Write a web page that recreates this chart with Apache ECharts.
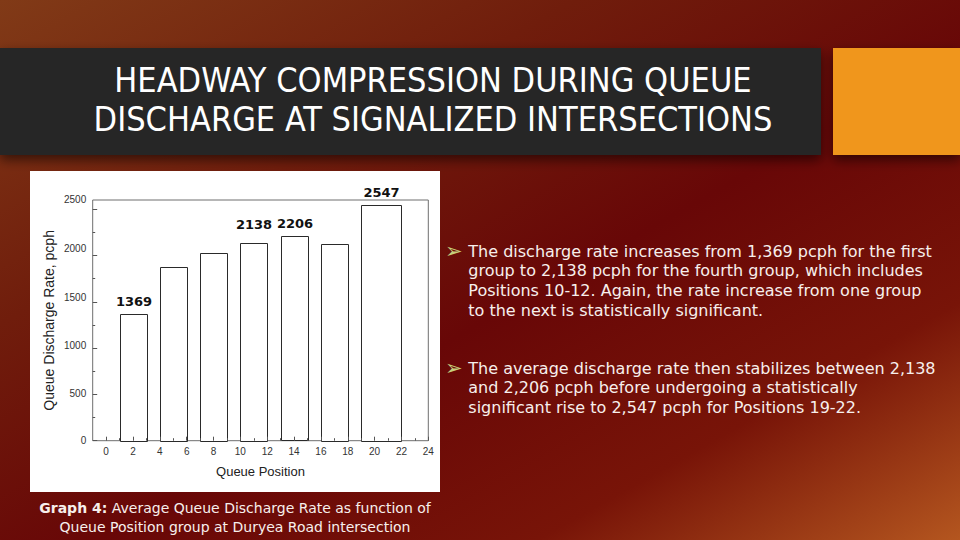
<!DOCTYPE html>
<html>
<head>
<meta charset="utf-8">
<script src="https://cdn.jsdelivr.net/npm/echarts@6/dist/echarts.min.js"></script>
<style>
html,body{margin:0;padding:0;background:#6b0d08;}
#c{width:960px;height:540px;}
</style>
</head>
<body>
<div id="c"></div>
<script>
// ---------- data ----------
const titleLines = ['HEADWAY COMPRESSION DURING QUEUE', 'DISCHARGE AT SIGNALIZED INTERSECTIONS'];
const groupStart = [1, 4, 7, 10, 13, 16, 19];
const groupEnd = [3, 6, 9, 12, 15, 18, 22];
const dischargeRate = [1369, 1878, 2029, 2138, 2206, 2130, 2547];
const annotatedGroups = [0, 3, 4, 6];
const xTickValues = [0, 2, 4, 6, 8, 10, 12, 14, 16, 18, 20, 22, 24];
const xMinorTickValues = [1, 3, 5, 7, 9, 11, 13, 15, 17, 19, 21, 23];
const yTickValues = [0, 500, 1000, 1500, 2000, 2500];
const yMinorTickValues = [250, 750, 1250, 1750, 2250];
const xAxisName = 'Queue Position';
const yAxisName = 'Queue Discharge Rate, pcph';
const bullet1Lines = [
  'The discharge rate increases from 1,369 pcph for the first',
  'group to 2,138 pcph for the fourth group, which includes',
  'Positions 10-12. Again, the rate increase from one group',
  'to the next is statistically significant.'
];
const bullet2Lines = [
  'The average discharge rate then stabilizes between 2,138',
  'and 2,206 pcph before undergoing a statistically',
  'significant rise to 2,547 pcph for Positions 19-22.'
];
const captionBold = 'Graph 4:';
const captionLine1 = ' Average Queue Discharge Rate as function of';
const captionLine2 = 'Queue Position group at Duryea Road intersection';

// ---------- chart ----------
const chart = echarts.init(document.getElementById('c'), null, {renderer: 'svg', width: 960, height: 540});
const AX_FONT = '"Liberation Sans", Arial, sans-serif';
const SLIDE_FONT = '"DejaVu Sans", sans-serif';

const barData = groupStart.map((s, i) => [s, groupEnd[i], dischargeRate[i]]);

// vertical shift of the scanned axis labels (px up)
const yLabelRich = {};
yTickValues.forEach((v, i) => {
  const shift = [0, 1.1, 3.1, 4.2, 6.6, 9.3][i];
  yLabelRich['l' + i] = {fontSize: 10, color: '#333', fontFamily: AX_FONT, padding: [0, 0, shift * 2, 0]};
});

const tickStyle = {color: '#555', width: 1};

const option = {
  animation: false,
  graphic: {
    elements: [
      {type: 'rect', z: -20, shape: {x: 0, y: 0, width: 960, height: 540},
        style: {fill: {type: 'linear', x: 0, y: 0, x2: 1, y2: 1, colorStops: [
          {offset: 0, color: '#813a17'}, {offset: 0.3, color: '#701d0c'},
          {offset: 0.55, color: '#680707'}, {offset: 0.78, color: '#781408'},
          {offset: 1, color: '#b4561f'}]}}},
      {type: 'rect', z: -19, shape: {x: 0, y: 48, width: 821, height: 107},
        style: {fill: '#272727', shadowBlur: 12, shadowOffsetY: 5, shadowColor: 'rgba(0,0,0,0.55)'}},
      {type: 'rect', z: -19, shape: {x: 833, y: 48, width: 127, height: 107},
        style: {fill: '#f0961d', shadowBlur: 12, shadowOffsetY: 5, shadowColor: 'rgba(0,0,0,0.55)'}},
      {type: 'text', z: -18, x: 433, y: 99.6,
        style: {text: titleLines.join('\n'), fill: '#ffffff', align: 'center', verticalAlign: 'middle',
          font: '34px "DejaVu Sans Condensed", "DejaVu Sans", sans-serif', lineHeight: 39}},
      {type: 'rect', z: -15, shape: {x: 30, y: 171, width: 410, height: 321}, style: {fill: '#ffffff'}},
      {type: 'text', z: -14, x: 445, y: 241.3,
        style: {text: '➢', fill: '#c6cf7c', font: '21px ' + SLIDE_FONT, lineHeight: 19.8, verticalAlign: 'top'}},
      {type: 'text', z: -14, x: 468.3, y: 241.3,
        style: {text: bullet1Lines.join('\n'), fill: '#f7efec', font: '16px ' + SLIDE_FONT, lineHeight: 19.8, verticalAlign: 'top'}},
      {type: 'text', z: -14, x: 445, y: 358.3,
        style: {text: '➢', fill: '#c6cf7c', font: '21px ' + SLIDE_FONT, lineHeight: 19.8, verticalAlign: 'top'}},
      {type: 'text', z: -14, x: 468.3, y: 358.3,
        style: {text: bullet2Lines.join('\n'), fill: '#f7efec', font: '16px ' + SLIDE_FONT, lineHeight: 19.8, verticalAlign: 'top'}},
      {type: 'text', z: -14, x: 235, y: 499.1,
        style: {text: '{b|' + captionBold + '}{r|' + captionLine1 + '}', align: 'center', verticalAlign: 'top', lineHeight: 18.4,
          rich: {b: {font: 'bold 14px ' + SLIDE_FONT, fill: '#f7efec', color: '#f7efec', lineHeight: 18.4},
                 r: {font: '14px ' + SLIDE_FONT, fill: '#f7efec', color: '#f7efec', lineHeight: 18.4}}}},
      {type: 'text', z: -14, x: 235, y: 517.5,
        style: {text: captionLine2, fill: '#f7efec', font: '14px ' + SLIDE_FONT, align: 'center', verticalAlign: 'top', lineHeight: 18.4}}
    ]
  },
  grid: {left: 92.7, top: 200, width: 335.6, height: 240.7, show: true, borderColor: '#6e6e6e', borderWidth: 1,
    backgroundColor: 'transparent', containLabel: false},
  xAxis: [
    {type: 'value', min: -1, max: 24, position: 'bottom', z: 5,
      axisLine: {show: false, onZero: false}, splitLine: {show: false},
      axisTick: {show: true, inside: true, length: 4, customValues: xTickValues, lineStyle: tickStyle},
      axisLabel: {customValues: xTickValues, fontSize: 10, color: '#333', margin: 6, fontFamily: AX_FONT},
      name: xAxisName, nameLocation: 'middle', nameGap: 24,
      nameTextStyle: {fontSize: 13, color: '#222', fontFamily: AX_FONT}},
    {type: 'value', min: -1, max: 24, position: 'bottom', z: 5,
      axisLine: {show: false, onZero: false}, splitLine: {show: false}, axisLabel: {show: false},
      axisTick: {show: true, inside: true, length: 2.5, customValues: xMinorTickValues, lineStyle: tickStyle}}
  ],
  yAxis: [
    {type: 'value', min: 0, max: 2600, position: 'left', z: 5,
      axisLine: {show: false, onZero: false}, splitLine: {show: false},
      axisTick: {show: true, inside: true, length: 4.5, customValues: yTickValues, lineStyle: tickStyle},
      axisLabel: {customValues: yTickValues, margin: 6.5, fontSize: 10, color: '#333', fontFamily: AX_FONT,
        formatter: v => '{l' + yTickValues.indexOf(v) + '|' + v + '}', rich: yLabelRich},
      name: yAxisName, nameLocation: 'middle', nameGap: 37, nameRotate: 90,
      nameTextStyle: {fontSize: 14, color: '#222', fontFamily: AX_FONT}},
    {type: 'value', min: 0, max: 2600, position: 'left', z: 5,
      axisLine: {show: false, onZero: false}, splitLine: {show: false}, axisLabel: {show: false},
      axisTick: {show: true, inside: true, length: 2.5, customValues: yMinorTickValues, lineStyle: tickStyle}}
  ],
  series: [{
    type: 'custom',
    z: 1,
    xAxisIndex: 0, yAxisIndex: 0,
    data: barData,
    encode: {x: [0, 1], y: 2},
    renderItem: function (params, api) {
      const x0 = api.value(0), x1 = api.value(1), v = api.value(2);
      const pTop = api.coord([x0, v]);
      const pBot = api.coord([x1, 0]);
      const idx = params.dataIndex;
      const el = {
        type: 'rect',
        shape: {x: Math.round(pTop[0]) + 0.5, y: Math.round(pTop[1]) + 0.5,
          width: Math.round(pBot[0] - pTop[0]), height: Math.round(pBot[1] - pTop[1])},
        style: {fill: '#ffffff', stroke: '#2a2a2a', lineWidth: 1}
      };
      if (annotatedGroups.indexOf(idx) >= 0) {
        el.textContent = {style: {text: String(v), font: 'bold 13px ' + SLIDE_FONT, fill: '#111'}};
        el.textConfig = {position: 'top', distance: idx === 3 ? 12.3 : 6};
      }
      return el;
    }
  }]
};
chart.setOption(option);
</script>
</body>
</html>
